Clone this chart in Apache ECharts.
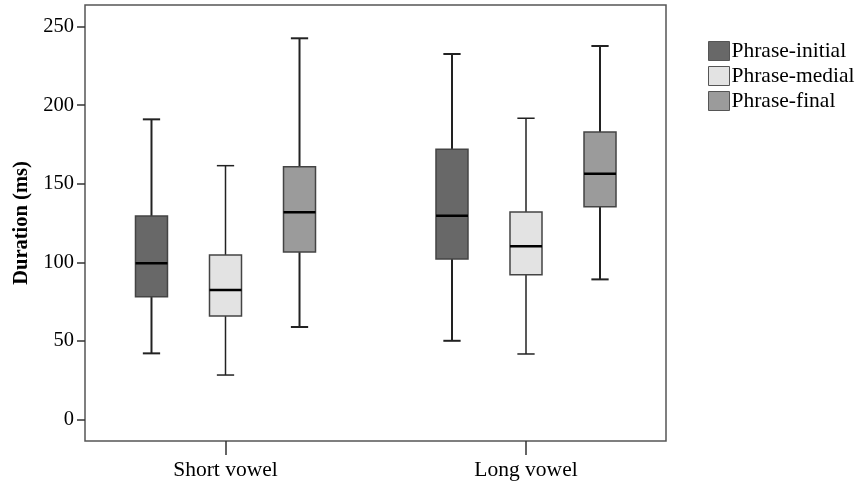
<!DOCTYPE html>
<html>
<head>
<meta charset="utf-8">
<script src="https://cdn.jsdelivr.net/npm/echarts@6/dist/echarts.min.js"></script>
<style>html,body{margin:0;padding:0;background:#fff;}#c{width:857px;height:485px;}</style>
</head>
<body>
<div id="c"></div>
<script>
// ---- data ----
const categories = ['Short vowel', 'Long vowel'];
const seriesNames = ['Phrase-initial', 'Phrase-medial', 'Phrase-final'];
// [min, Q1, median, Q3, max] per category
const phraseInitial = [[42.0, 78.1, 99.3, 129.4, 191.0], [50.0, 102.1, 129.6, 171.9, 232.6]];
const phraseMedial  = [[28.2, 65.8, 82.3, 104.6, 161.5], [41.6, 92.1, 110.2, 132.0, 191.7]];
const phraseFinal   = [[58.8, 106.5, 131.8, 160.8, 242.6], [89.1, 135.4, 156.4, 182.9, 237.7]];
const yTicks = [0, 50, 100, 150, 200, 250];

const FONT = "'Liberation Serif','Times New Roman',serif";
const fills = ['#686868', '#e3e3e3', '#9b9b9b'];
const yMin = -13.8, yMax = 263.8;

function makeRender(pos, fill, whiskerW) {
  return function (params, api) {
    const band = api.size([1, 0])[0];
    const off = (pos - 1) * band * 0.2463;
    const bw = band * 0.1065;
    const cap = bw * 0.27;
    const c = api.value(0);
    const pMin = api.coord([c, api.value(1)]);
    const pQ1 = api.coord([c, api.value(2)]);
    const pMed = api.coord([c, api.value(3)]);
    const pQ3 = api.coord([c, api.value(4)]);
    const pMax = api.coord([c, api.value(5)]);
    const x = pMed[0] + off;
    const ws = { stroke: '#222', lineWidth: whiskerW };
    return {
      type: 'group',
      children: [
        { type: 'line', shape: { x1: x, y1: pMax[1], x2: x, y2: pQ3[1] }, style: ws },
        { type: 'line', shape: { x1: x, y1: pQ1[1], x2: x, y2: pMin[1] }, style: ws },
        { type: 'line', shape: { x1: x - cap, y1: pMax[1], x2: x + cap, y2: pMax[1] }, style: ws },
        { type: 'line', shape: { x1: x - cap, y1: pMin[1], x2: x + cap, y2: pMin[1] }, style: ws },
        { type: 'rect', shape: { x: x - bw / 2, y: pQ3[1], width: bw, height: pQ1[1] - pQ3[1] },
          style: { fill: fill, stroke: '#444', lineWidth: 1.5 } },
        { type: 'line', shape: { x1: x - bw / 2, y1: pMed[1], x2: x + bw / 2, y2: pMed[1] },
          style: { stroke: '#000', lineWidth: 2.5 } }
      ]
    };
  };
}

const allData = [phraseInitial, phraseMedial, phraseFinal];
const series = allData.map((arr, k) => ({
  name: seriesNames[k],
  type: 'custom',
  xAxisIndex: 1,
  yAxisIndex: 1,
  clip: false,
  itemStyle: { color: fills[k] },
  encode: { x: 0, y: [1, 2, 3, 4, 5] },
  renderItem: makeRender(k, fills[k], k === 1 ? 1.5 : 2),
  data: arr.map((d, i) => [i].concat(d))
}));

const chart = echarts.init(document.getElementById('c'), null, { renderer: 'canvas' });
chart.setOption({
  animation: false,
  backgroundColor: '#fff',
  textStyle: { fontFamily: FONT },
  grid: [
    { left: 85, right: 191, top: 5, bottom: 44, outerBoundsMode: 'none', containLabel: false,
      show: true, borderColor: '#555', borderWidth: 1.5, backgroundColor: 'transparent' },
    { left: 75.25, width: 601, top: 5, bottom: 44, outerBoundsMode: 'none', containLabel: false }
  ],
  legend: {
    data: seriesNames,
    orient: 'vertical',
    left: 703,
    top: 35,
    icon: 'rect',
    itemWidth: 21,
    itemHeight: 19,
    itemGap: 3,
    itemStyle: { borderColor: '#555', borderWidth: 1 },
    textStyle: { fontFamily: FONT, fontSize: 21.5, color: '#000', lineHeight: 22, padding: [0, 0, 0, -3] }
  },
  xAxis: [
    { type: 'category', gridIndex: 0, show: false, data: categories },
    {
      type: 'category', gridIndex: 1, data: categories, position: 'bottom',
      axisLine: { show: false, onZero: false },
      axisTick: { show: true, alignWithLabel: true, length: 14, lineStyle: { color: '#333', width: 1.5 } },
      axisLabel: { fontFamily: FONT, fontSize: 21.5, color: '#000', margin: 18 },
      splitLine: { show: false }
    }
  ],
  yAxis: [
    {
      type: 'value', gridIndex: 0, min: yMin, max: yMax,
      name: 'Duration (ms)', nameLocation: 'middle', nameGap: 52,
      nameTextStyle: { fontFamily: FONT, fontSize: 20.5, fontWeight: 'bold', color: '#000' },
      axisLine: { show: false },
      axisTick: { show: true, length: 8, customValues: yTicks, lineStyle: { color: '#333', width: 1.5 } },
      axisLabel: { fontFamily: FONT, fontSize: 20.5, color: '#000', margin: 11, customValues: yTicks },
      splitLine: { show: false }
    },
    { type: 'value', gridIndex: 1, min: yMin, max: yMax, show: false, splitLine: { show: false } }
  ],
  series: series
});
</script>
</body>
</html>
